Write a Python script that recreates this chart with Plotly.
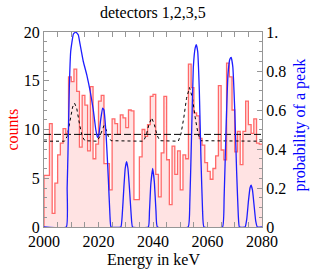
import plotly.graph_objects as go

# ---- data ----
bin_start = list(range(2000, 2080))          # 1 keV bins
counts = [5.3, 5.3, 10.6, 1.4, 4.5, 7.4, 8.6, 10.1, 9.6, 15.4,
          14.9, 16.2, 13.9, 8.2, 13.5, 12.5, 7.8, 14.4, 7.0, 8.5,
          12.9, 13.5, 6.5, 6.5, 3.8, 11.1, 10.6, 9.5, 11.5, 11.2,
          10.2, 12.0, 11.9, 2.8, 2.8, 7.2, 10.0, 9.3, 10.5, 13.4,
          13.6, 5.4, 3.1, 7.6, 13.4, 6.9, 2.3, 8.3, 5.4, 7.8,
          3.8, 7.4, 7.0, 16.7, 14.3, 11.7, 11.4, 9.1, 8.4, 6.6,
          5.7, 4.9, 6.0, 7.3, 14.5, 7.9, 6.9, 16.8, 15.4, 12.0,
          7.7, 9.8, 6.4, 9.8, 12.9, 10.5, 9.6, 11.1, 8.6, 8.5]

prob_E = [2000, 2008.2, 2008.5, 2008.8, 2009.3, 2009.8, 2010.8, 2011.7, 2012.6, 2013.2,
          2014.4, 2015.7, 2016.9, 2018.1, 2019.0, 2019.6, 2020.1, 2020.8, 2021.5, 2022.0,
          2022.8, 2023.6, 2024.2, 2024.6,
          2028.2, 2028.7, 2029.3, 2029.8, 2030.3, 2030.8, 2031.4, 2032.0, 2032.5,
          2038.3, 2038.7, 2039.2, 2039.9, 2040.5, 2041.1, 2041.6,
          2052.9, 2053.5, 2054.2, 2054.8, 2055.5, 2055.9, 2056.4, 2057.0, 2057.6, 2058.2, 2058.7,
          2065.5, 2066.1, 2066.8, 2067.5, 2068.2, 2068.7, 2069.3, 2070.0, 2070.7, 2071.3, 2071.7,
          2073.8, 2074.4, 2075.0, 2075.6, 2076.0, 2076.5, 2077.1, 2077.7, 2078.3, 2080]
prob_P = [0, 0, 0.2, 0.38, 0.72, 0.9, 0.99, 1.0, 0.985, 0.94,
          0.85, 0.78, 0.70, 0.60, 0.50, 0.46, 0.47, 0.55, 0.61, 0.60,
          0.47, 0.25, 0.06, 0.0,
          0, 0.06, 0.2, 0.3, 0.335, 0.30, 0.19, 0.06, 0,
          0, 0.08, 0.22, 0.30, 0.23, 0.08, 0,
          0, 0.12, 0.5, 0.82, 0.92, 0.935, 0.9, 0.7, 0.35, 0.08, 0,
          0, 0.15, 0.5, 0.78, 0.86, 0.87, 0.82, 0.6, 0.28, 0.06, 0,
          0, 0.04, 0.13, 0.2, 0.215, 0.19, 0.11, 0.03, 0, 0]

fit_E = [2000, 2007.5, 2008.5, 2009.5, 2010.5, 2011.2, 2012.0, 2013.0, 2014.0, 2015.0,
         2019.5, 2020.5, 2021.3, 2022.0, 2022.8, 2023.6, 2024.6,
         2036.5, 2037.5, 2038.5, 2039.5, 2040.5, 2041.5, 2042.5,
         2049.3, 2050.3, 2051.3, 2052.3, 2053.4, 2054.5, 2055.5, 2056.5, 2057.5, 2080]
fit_C = [8.8, 8.8, 9.3, 10.9, 12.3, 12.7, 12.2, 10.6, 9.3, 8.85,
         8.8, 9.3, 10.0, 10.4, 10.0, 9.3, 8.85,
         8.8, 9.4, 10.5, 11.2, 10.5, 9.4, 8.85,
         8.8, 9.6, 11.2, 13.2, 14.3, 13.2, 11.2, 9.6, 8.85, 8.8]

level_E = [2000, 2080]
level_C = [9.5, 9.5]

# ---- build step outline of histogram ----
step_x = [bin_start[0]] + bin_start + [bin_start[-1] + 1]
step_y = [0] + counts + [counts[-1]]

FONT = "Liberation Serif"
fig = go.Figure()
fig.add_trace(go.Scatter(x=step_x, y=step_y, mode="lines", line_shape="hv",
                         line=dict(color="rgb(255,105,105)", width=1.3),
                         fill="tozeroy", fillcolor="rgb(255,227,227)",
                         hoverinfo="skip", showlegend=False))
fig.add_trace(go.Scatter(x=fit_E, y=fit_C, mode="lines",
                         line=dict(color="black", width=1, dash="dot"),
                         showlegend=False))
fig.add_trace(go.Scatter(x=level_E, y=level_C, mode="lines",
                         line=dict(color="black", width=1, dash="7px,3px"),
                         showlegend=False))
fig.add_trace(go.Scatter(x=prob_E, y=prob_P, mode="lines", yaxis="y2",
                         line=dict(color="rgb(30,30,255)", width=1.3, shape="spline", smoothing=0.35),
                         showlegend=False))

frame = "rgb(150,150,150)"
fig.update_layout(
    width=311, height=280,
    margin=dict(l=44, r=49, t=32, b=53),
    paper_bgcolor="white", plot_bgcolor="white",
    font=dict(family=FONT, size=16, color="black"),
    xaxis=dict(range=[2000, 2080], tickvals=[2000, 2020, 2040, 2060, 2080],
               ticks="inside", ticklen=5, tickcolor=frame, tickwidth=1,
               showline=True, linecolor=frame, linewidth=1, mirror="allticks",
               showgrid=False, zeroline=False,
               minor=dict(ticks="inside", ticklen=3, dtick=5, tickcolor=frame, showgrid=False),
               tickfont=dict(family=FONT, size=16)),
    yaxis=dict(range=[0, 20], tickvals=[0, 5, 10, 15, 20],
               ticks="inside", ticklen=5, tickcolor=frame,
               showline=True, linecolor=frame, linewidth=1,
               showgrid=False, zeroline=False,
               minor=dict(ticks="inside", ticklen=3, dtick=1, tickcolor=frame, showgrid=False),
               tickfont=dict(family=FONT, size=16)),
    yaxis2=dict(range=[0, 1], overlaying="y", side="right",
                tickvals=[0, 0.2, 0.4, 0.6, 0.8, 1.0],
                ticktext=["0", "0.2", "0.4", "0.6", "0.8", "1."],
                ticks="inside", ticklen=5, tickcolor=frame,
                showline=True, linecolor=frame, linewidth=1,
                showgrid=False, zeroline=False,
                minor=dict(ticks="inside", ticklen=3, dtick=0.05, tickcolor=frame, showgrid=False),
                tickfont=dict(family=FONT, size=16)),
    annotations=[
        dict(text="detectors 1,2,3,5", xref="paper", yref="paper", x=0.5, y=(227 - 13) / 195,
             xanchor="center", yanchor="middle", showarrow=False, font=dict(size=16)),
        dict(text="Energy in keV", xref="paper", yref="paper", x=0.5, y=(227 - 260) / 195,
             xanchor="center", yanchor="middle", showarrow=False, font=dict(size=16)),
        dict(text="counts", xref="paper", yref="paper", x=(12 - 44) / 218, y=0.5,
             xanchor="center", yanchor="middle", textangle=-90, showarrow=False,
             font=dict(size=16, color="rgb(255,0,0)")),
        dict(text="probability of a peak", xref="paper", yref="paper", x=(300 - 44) / 218, y=0.52,
             xanchor="center", yanchor="middle", textangle=-90, showarrow=False,
             font=dict(size=16, color="rgb(0,0,255)")),
    ],
)
fig.write_html("out.html", config={"displayModeBar": False},
               post_script="document.body.style.margin='0';document.body.style.padding='0';")
